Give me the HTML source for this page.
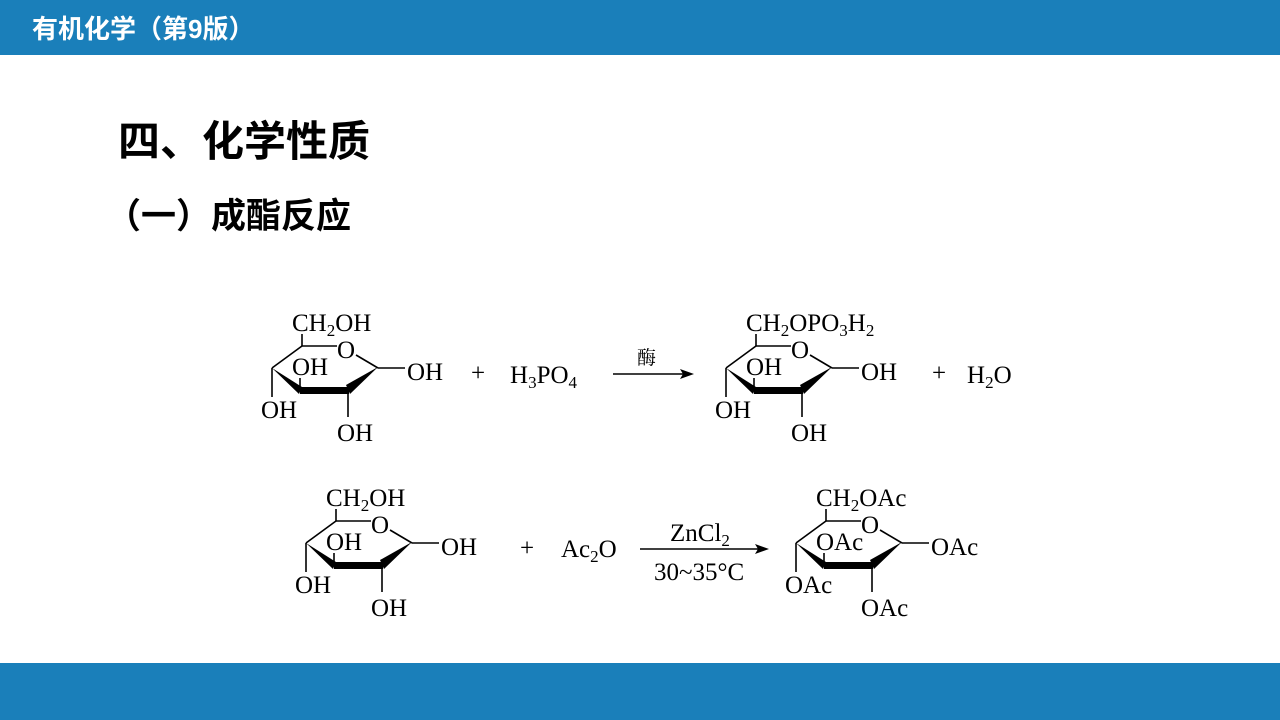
<!DOCTYPE html>
<html><head><meta charset="utf-8"><style>
body{margin:0;width:1280px;height:720px;background:#fff;overflow:hidden;position:relative;font-family:"Liberation Sans","Noto Sans CJK SC",sans-serif}
.top{position:absolute;left:0;top:0;width:1280px;height:55px;background:#1a7fba}
.top span{position:absolute;left:32px;top:9px;color:#fff;font-size:26px;font-weight:bold}
.bot{position:absolute;left:0;top:663px;width:1280px;height:57px;background:#1a7fba}
.h1{position:absolute;left:118px;top:108px;font-size:42px;font-weight:bold;color:#000}
.h2{position:absolute;left:106px;top:188px;font-size:35px;font-weight:bold;color:#000}
svg{position:absolute;left:0;top:0}
svg text{font-family:"Liberation Serif","Noto Serif CJK SC",serif;font-size:25px;fill:#000}
</style></head><body>
<div class="top"><span>有机化学（第9版）</span></div>
<div class="h1">四、化学性质</div>
<div class="h2">（一）成酯反应</div>
<div class="bot"></div>
<svg width="1280" height="720">
<defs>
<g id="ring" stroke="#000" stroke-width="1.6" fill="none">
<line x1="302" y1="346" x2="337" y2="346"/>
<line x1="356" y1="355" x2="378" y2="368"/>
<line x1="378" y1="368" x2="405" y2="368"/>
<polygon points="378,367 346,385 350,394" fill="#000" stroke="none"/>
<polygon points="300,387 349,387 349,394 300,394" fill="#000" stroke="none"/>
<polygon points="272,368 302,387 299,394" fill="#000" stroke="none"/>
<line x1="272" y1="368" x2="302" y2="346"/>
<line x1="302" y1="346" x2="302" y2="334"/>
<line x1="272" y1="368" x2="272" y2="397"/>
<line x1="300" y1="390" x2="300" y2="378"/>
<line x1="348" y1="390" x2="348" y2="417"/>
</g>
</defs>
<use href="#ring"/>
<text x="337" y="358">O</text>
<text x="292" y="331">CH<tspan font-size="17" dy="5">2</tspan><tspan dy="-5">OH</tspan></text>
<text x="292" y="375">OH</text>
<text x="261" y="418">OH</text>
<text x="337" y="441">OH</text>
<text x="407" y="380">OH</text>
<text x="471" y="381">+</text>
<text x="510" y="383">H<tspan font-size="17" dy="5">3</tspan><tspan dy="-5">PO</tspan><tspan font-size="17" dy="5">4</tspan></text>
<line x1="613" y1="374" x2="685" y2="374" stroke="#000" stroke-width="1.5"/>
<polygon points="694,374 680,369 683,374 680,379" fill="#000"/>
<text x="637" y="364" style="font-size:19px">酶</text>
<g transform="translate(454,0)"><use href="#ring"/>
<text x="337" y="358">O</text>
<text x="292" y="331">CH<tspan font-size="17" dy="5">2</tspan><tspan dy="-5">OPO</tspan><tspan font-size="17" dy="5">3</tspan><tspan dy="-5">H</tspan><tspan font-size="17" dy="5">2</tspan></text>
<text x="292" y="375">OH</text>
<text x="261" y="418">OH</text>
<text x="337" y="441">OH</text>
<text x="407" y="380">OH</text></g>
<text x="932" y="381">+</text>
<text x="967" y="383">H<tspan font-size="17" dy="5">2</tspan><tspan dy="-5">O</tspan></text>
<g transform="translate(34,175)"><use href="#ring"/>
<text x="337" y="358">O</text>
<text x="292" y="331">CH<tspan font-size="17" dy="5">2</tspan><tspan dy="-5">OH</tspan></text>
<text x="292" y="375">OH</text>
<text x="261" y="418">OH</text>
<text x="337" y="441">OH</text>
<text x="407" y="380">OH</text></g>
<text x="520" y="556">+</text>
<text x="561" y="557">Ac<tspan font-size="17" dy="5">2</tspan><tspan dy="-5">O</tspan></text>
<line x1="640" y1="549" x2="760" y2="549" stroke="#000" stroke-width="1.5"/>
<polygon points="769,549 755,544 758,549 755,554" fill="#000"/>
<text x="670" y="541">ZnCl<tspan font-size="17" dy="5">2</tspan></text>
<text x="654" y="580">30~35°C</text>
<g transform="translate(524,175)"><use href="#ring"/>
<text x="337" y="358">O</text>
<text x="292" y="331">CH<tspan font-size="17" dy="5">2</tspan><tspan dy="-5">OAc</tspan></text>
<text x="292" y="375">OAc</text>
<text x="261" y="418">OAc</text>
<text x="337" y="441">OAc</text>
<text x="407" y="380">OAc</text></g>
</svg>
</body></html>
